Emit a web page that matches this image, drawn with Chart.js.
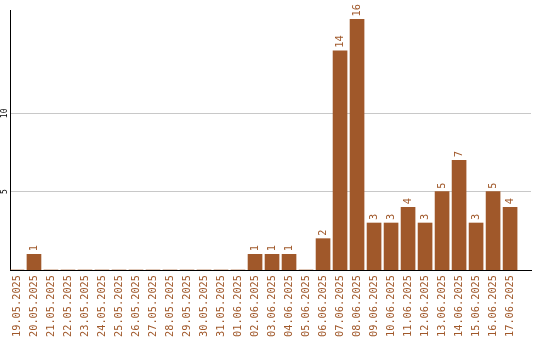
<!DOCTYPE html>
<html>
<head>
<meta charset="utf-8">
<script src="https://cdn.jsdelivr.net/npm/chart.js@4"></script>
<style>
  html, body { margin: 0; padding: 0; background: #fff; }
  #wrap { width: 540px; height: 340px; }
</style>
</head>
<body>
<div id="wrap"><canvas id="c" width="540" height="340"></canvas></div>
<script>
// Data
const days = [
  '19.05.2025','20.05.2025','21.05.2025','22.05.2025','23.05.2025','24.05.2025',
  '25.05.2025','26.05.2025','27.05.2025','28.05.2025','29.05.2025','30.05.2025',
  '31.05.2025','01.06.2025','02.06.2025','03.06.2025','04.06.2025','05.06.2025',
  '06.06.2025','07.06.2025','08.06.2025','09.06.2025','10.06.2025','11.06.2025',
  '12.06.2025','13.06.2025','14.06.2025','15.06.2025','16.06.2025','17.06.2025'
];
const counts = [
  0, 1, 0, 0, 0, 0,
  0, 0, 0, 0, 0, 0,
  0, 0, 1, 1, 1, 0,
  2, 14, 16, 3, 3, 4,
  3, 5, 7, 3, 5, 4
];
const yTicks = [5, 10];

const brown = '#a0582a';
const mono = '"DejaVu Sans Mono", "Liberation Mono", monospace';

// value labels above bars, rotated
const barLabels = {
  id: 'barLabels',
  afterDatasetsDraw(chart){
    const ctx = chart.ctx;
    const meta = chart.getDatasetMeta(0);
    ctx.save();
    ctx.fillStyle = brown;
    ctx.font = '10.3px ' + mono;
    ctx.textAlign = 'left';
    ctx.textBaseline = 'middle';
    meta.data.forEach((bar, i) => {
      const v = counts[i];
      if(!v) return;
      ctx.save();
      ctx.translate(bar.x, bar.y - 3);
      ctx.rotate(-Math.PI/2);
      ctx.fillText(String(v), 0, 0);
      ctx.restore();
    });
    ctx.restore();
  }
};

new Chart(document.getElementById('c'), {
  type: 'bar',
  data: {
    datasets: [{
      data: counts.map((v, i) => ({x: i, y: v})),
      backgroundColor: brown,
      barThickness: 14,
      borderWidth: 0
    }]
  },
  options: {
    responsive: false,
    animation: false,
    layout: { padding: { top: 10, right: 9, left: 0, bottom: 0 } },
    plugins: { legend: { display: false }, tooltip: { enabled: false } },
    scales: {
      x: {
        type: 'linear',
        offset: false,
        min: -0.41,
        max: 30.23,
        afterBuildTicks: (s) => { s.ticks = days.map((_, i) => ({value: i})); },
        afterFit: (s) => { s.height = 70; },
        grid: { display: false, drawTicks: false },
        border: { display: true, color: '#000', width: 1 },
        ticks: {
          autoSkip: false,
          minRotation: 90,
          maxRotation: 90,
          padding: 5,
          color: brown,
          font: { family: mono, size: 10.3 },
          callback: (v) => days[v] ?? ''
        }
      },
      y: {
        min: 0,
        max: 16.6,
        afterBuildTicks: (s) => { s.ticks = yTicks.map(v => ({value: v})); },
        afterFit: (s) => { s.width = 10; },
        grid: { color: '#c8c8c8', drawTicks: false },
        border: { display: true, color: '#000', width: 1 },
        ticks: {
          minRotation: 90,
          maxRotation: 90,
          crossAlign: 'center',
          padding: 0,
          color: '#000',
          font: { family: mono, size: 8 }
        }
      }
    }
  },
  plugins: [barLabels]
});
</script>
</body>
</html>
